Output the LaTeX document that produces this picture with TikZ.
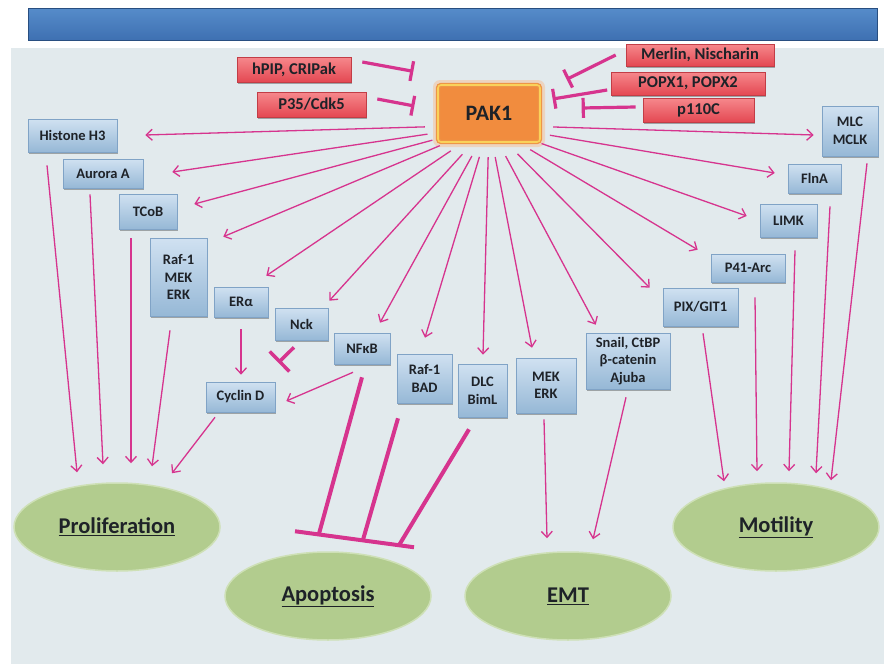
\documentclass[tikz,border=0pt]{standalone}
\usepackage{fontspec}
\setmainfont{Carlito}
\usetikzlibrary{arrows.meta,calc,shadows,shapes.geometric}
\definecolor{bgpanel}{RGB}{226,234,237}
\definecolor{mag}{RGB}{214,52,142}
\definecolor{boxtop}{RGB}{208,225,241}
\definecolor{boxbot}{RGB}{150,184,214}
\definecolor{boxedge}{RGB}{128,163,198}
\definecolor{redtop}{RGB}{246,136,140}
\definecolor{redbot}{RGB}{228,72,82}
\definecolor{pakfill}{RGB}{241,140,62}
\definecolor{pakrim}{RGB}{238,150,70}
\definecolor{pakedge}{RGB}{250,210,90}
\definecolor{ellfill}{RGB}{178,204,142}
\definecolor{ellrim}{RGB}{206,224,182}
\definecolor{bartop}{RGB}{86,140,202}
\definecolor{barbot}{RGB}{62,112,178}
\definecolor{bardark}{RGB}{40,78,128}
\definecolor{txt}{RGB}{30,34,40}
\begin{document}
\begin{tikzpicture}[x=1pt,y=-1pt,
  sz/.style 2 args={minimum width=#1pt,minimum height=#2pt},
  bbox/.style={draw=boxedge,line width=0.6pt,top color=boxtop,bottom color=boxbot,
    text=txt,font=\bfseries\fontsize{14.5}{17.5}\selectfont,align=center,inner sep=1pt,
    drop shadow={shadow xshift=1.2pt,shadow yshift=-2pt,opacity=0.3,fill=black}},
  rbox/.style={draw=redbot!85!black,line width=0.6pt,top color=redtop,bottom color=redbot,
    text=txt,font=\bfseries\fontsize{16.5}{18}\selectfont,align=center,inner sep=1pt,
    drop shadow={shadow xshift=1.2pt,shadow yshift=-2pt,opacity=0.3,fill=black}},
  pakbox/.style={draw=pakrim,line width=1.3pt,double=pakedge,double distance=1.6pt,
    fill=pakfill,rounded corners=3pt,text=txt,font=\bfseries\fontsize{22}{24}\selectfont,inner sep=1pt},
  ell/.style={ellipse,minimum width=206pt,minimum height=88pt,fill=ellfill,draw=ellrim,
    line width=1.5pt,text=txt,font=\bfseries\fontsize{22.5}{24}\selectfont,inner sep=0pt},
  arr/.style={draw=mag,line width=1.3pt,-{Straight Barb[length=6pt,width=11pt]}},
  inh/.style={draw=mag,line width=3.2pt,-{Bar[width=20pt]}},
  thick inh/.style={draw=mag,line width=4pt}
]
\useasboundingbox (0,0) rectangle (884,664);
\fill[white] (0,0) rectangle (884,664);
\fill[bgpanel] (11,48) rectangle (884,664);
\shade[top color=bartop,bottom color=barbot,draw=bardark,line width=1pt] (28,8) rectangle (877,40);

% PAK1 glow
\fill[pakfill!55,opacity=0.5,rounded corners=7pt] (433,80) rectangle (545,147);

% central node
\node[pakbox,sz={102}{57}] (pak) at (489,113.5) {PAK1};
\node[ellipse,minimum width=128pt,minimum height=64pt,inner sep=0pt] (fan) at (489,125) {};

% regulators
\node[rbox,sz={114}{25}] (hpip) at (294,69.5) {hPIP, CRIPak};
\node[rbox,sz={109}{25}] (p35) at (311.5,104.5) {P35/Cdk5};
\node[rbox,sz={148}{22}] (merlin) at (700,55) {Merlin, Nischarin};
\node[rbox,sz={154}{23}] (popx) at (688,83.5) {POPX1, POPX2};
\node[rbox,sz={111}{24}] (p110) at (698.5,110) {p110C};

% effectors
\node[bbox,sz={89}{33}] (hist) at (72.5,135.5) {Histone H3};
\node[bbox,sz={80}{29}] (aurora) at (103,173.5) {Aurora A};
\node[bbox,sz={58}{35}] (tcob) at (148,211.5) {TCoB};
\node[bbox,sz={57}{78}] (rafmek) at (178.5,277) {Raf-1\\MEK\\ERK};
\node[bbox,sz={54}{30}] (era) at (241,302) {ERα};
\node[bbox,sz={53}{32}] (nck) at (301.5,324) {Nck};
\node[bbox,sz={56}{31}] (nfkb) at (362,348.5) {NFκB};
\node[bbox,sz={55}{49}] (rafbad) at (424.5,378.5) {Raf-1\\BAD};
\node[bbox,sz={49}{53}] (dlc) at (482.5,390.5) {DLC\\BimL};
\node[bbox,sz={60}{55}] (mekerk) at (546,385.5) {MEK\\ERK};
\node[bbox,sz={84}{56}] (snail) at (628,361) {Snail, CtBP\\β-catenin\\Ajuba};
\node[bbox,sz={69}{30}] (cyclin) at (240.5,397) {Cyclin D};
\node[bbox,sz={75}{38}] (pix) at (700.5,307) {PIX/GIT1};
\node[bbox,sz={74}{28}] (p41) at (748,268) {P41-Arc};
\node[bbox,sz={57}{33}] (limk) at (788.5,220.5) {LIMK};
\node[bbox,sz={53}{29}] (flna) at (814.5,178.5) {FlnA};
\node[bbox,sz={56}{50}] (mlc) at (850,131) {MLC\\MCLK};

% outcomes
\node[ell] (prolif) at (117,527) {\underline{Proliferation}};
\node[ell] (apop) at (328,596) {\underline{Apoptosis}};
\node[ell] (emt) at (568,596) {\underline{EMT}};
\node[ell] (motil) at (776,527) {\underline{Motility}};

% inhibitors of PAK1
\draw[inh] ($(hpip.east)+(11,-7.5)$) -- ($(pak.north west)+(-24,-13)$);
\draw[inh] ($(p35.east)+(11,-5.5)$) -- ($(pak.west)+(-23,-7.5)$);
\draw[inh] ($(merlin.west)+(-10,0)$) -- ($(pak.north east)+(26,-5)$);
\draw[inh] ($(popx.west)+(-3.5,6.5)$) -- ($(pak.east)+(12,-14.5)$);
\draw[inh] ($(p110.west)+(-7,-3)$) -- ($(pak.east)+(41,-5.5)$);

% PAK1 fan
\draw[arr] (fan) -- ($(hist.east)+(28,-0.5)$);
\draw[arr] (fan) -- ($(aurora.east)+(29,-1.5)$);
\draw[arr] (fan) -- ($(tcob.east)+(17,-7.5)$);
\draw[arr] (fan) -- ($(rafmek.north east)+(16,-1)$);
\draw[arr] (fan) -- ($(era.north east)+(-2,-11)$);
\draw[arr] (fan) -- ($(nck.north east)+(1,-7)$);
\draw[arr] (fan) -- ($(nfkb.north)+(18,-10)$);
\draw[arr] (fan) -- ($(rafbad.north)+(0.5,-16)$);
\draw[arr] (fan) -- ($(dlc.north)+(0.5,-9)$);
\draw[arr] (fan) -- ($(mekerk.north)+(-14,-10)$);
\draw[arr] (fan) -- ($(snail.north west)+(10,-8)$);
\draw[arr] (fan) -- ($(pix.north west)+(-13,0)$);
\draw[arr] (fan) -- ($(p41.north west)+(-13,-4)$);
\draw[arr] (fan) -- ($(limk.west)+(-13,-4.5)$);
\draw[arr] (fan) -- ($(flna.west)+(-13,-5.5)$);
\draw[arr] (fan) -- ($(mlc.west)+(-8,4)$);

% to proliferation
\draw[arr] ($(hist.south)+(-25.5,13)$) -- ($(prolif.north)+(-40,-10)$);
\draw[arr] ($(aurora.south)+(-13,6)$) -- ($(prolif.north)+(-14,-18)$);
\draw[arr] ($(tcob.south)+(-17,9)$) -- ($(prolif.north)+(14,-19)$);
\draw[arr] ($(rafmek.south)+(-8.5,14)$) -- ($(prolif.north)+(35,-16)$);
\draw[arr] ($(cyclin.south)+(-25.5,5)$) -- ($(prolif.north)+(55,-9)$);
\draw[arr] ($(era.south)+(0,12)$) -- ($(cyclin.north)+(0.5,-7)$);
\draw[arr] ($(nfkb.south)+(-9,8)$) -- ($(cyclin.east)+(11,4)$);
\draw[draw=mag,line width=3.5pt,-{Bar[width=28pt]}] ($(nck.south)+(-7.5,7)$) -- ($(cyclin.north east)+(3,-19)$);

% to apoptosis
\coordinate (bar1) at ($(apop.north)+(-33,-20)$);
\coordinate (bar2) at ($(apop.north)+(86,-4)$);
\draw[thick inh] (bar1) -- (bar2);
\draw[thick inh] ($(nfkb.south)+(0,13)$) -- ($(bar1)!0.20!(bar2)$);
\draw[thick inh] ($(rafbad.south)+(-26.5,15)$) -- ($(bar1)!0.57!(bar2)$);
\draw[thick inh] ($(dlc.south)+(-13.5,12)$) -- ($(bar1)!0.874!(bar2)$);

% to EMT
\draw[arr] ($(mekerk.south)+(-2,6)$) -- ($(emt.north)+(-21,-13)$);
\draw[arr] ($(snail.south)+(-2,8)$) -- ($(emt.north)+(25,-12)$);

% to motility
\draw[arr] ($(pix.south)+(2.5,7)$) -- ($(motil.north)+(-52,-1)$);
\draw[arr] ($(p41.south)+(7,15)$) -- ($(motil.north)+(-19,-11)$);
\draw[arr] ($(limk.south)+(6.5,13)$) -- ($(motil.north)+(13,-11)$);
\draw[arr] ($(flna.south)+(15.5,13)$) -- ($(motil.north)+(40,-9)$);
\draw[arr] ($(mlc.south)+(17,7)$) -- ($(motil.north)+(55,-2)$);
\end{tikzpicture}
\end{document}
